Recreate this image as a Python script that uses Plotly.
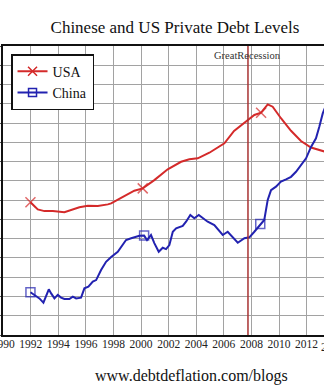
import plotly.graph_objects as go

# ---- data ----
usa_years = [1991.98, 1992.51, 1992.99, 1993.60, 1994.44, 1994.93, 1995.53, 1996.14, 1996.86,
             1997.59, 1997.83, 1998.55, 1999.51, 2000.12, 2000.96, 2001.93, 2002.90, 2003.50,
             2004.11, 2004.95, 2005.56, 2006.04, 2006.74, 2007.49, 2008.21, 2008.70, 2009.18,
             2009.54, 2010.14, 2010.87, 2011.59, 2012.32, 2012.83, 2013.40]
usa_debt = [118.9, 115.2, 114.3, 114.3, 113.7, 114.9, 116.3, 117.1, 116.9,
            117.8, 118.3, 121.2, 124.9, 126.1, 130.4, 136.0, 139.9, 141.2,
            141.7, 144.6, 147.4, 149.5, 155.9, 159.9, 164.2, 165.4, 169.7,
            168.5, 162.5, 156.0, 150.7, 147.3, 146.4, 145.0]

china_years = [1991.98, 1992.27, 1992.63, 1992.92, 1993.12, 1993.31, 1993.48, 1993.72, 1993.96,
               1994.20, 1994.44, 1994.80, 1995.05, 1995.29, 1995.65, 1995.89, 1996.18, 1996.50,
               1996.74, 1997.10, 1997.46, 1997.83, 1998.31, 1998.91, 1999.28, 1999.88, 2000.22,
               2000.43, 2000.72, 2000.96, 2001.28, 2001.57, 2001.81, 2002.05, 2002.30, 2002.54,
               2003.02, 2003.26, 2003.57, 2003.86, 2004.18, 2004.47, 2004.83, 2005.31, 2005.92,
               2006.28, 2006.64, 2007.01, 2007.49, 2007.85, 2008.21, 2008.64, 2008.93, 2009.18,
               2009.42, 2009.78, 2010.14, 2010.51, 2010.87, 2011.23, 2011.59, 2011.96, 2012.32,
               2012.68, 2012.92, 2013.17, 2013.41]
china_debt = [72.2, 70.8, 69.0, 66.8, 70.8, 73.7, 71.6, 69.0, 70.8,
              69.4, 68.7, 68.7, 69.9, 69.0, 69.4, 74.2, 75.1, 77.7,
              78.5, 83.7, 88.0, 90.5, 93.2, 99.3, 100.2, 101.5, 101.6,
              99.3, 101.9, 97.7, 93.2, 95.3, 94.6, 96.7, 103.6, 105.4,
              106.6, 108.8, 112.3, 110.6, 112.3, 110.6, 108.8, 107.1, 101.9,
              103.6, 101.0, 97.9, 100.2, 100.7, 103.6, 107.6, 109.7, 120.1,
              125.2, 127.0, 129.6, 130.8, 132.1, 134.7, 138.2, 141.7, 147.6,
              152.1, 158.1, 165.0, 169.4]

marker_years = [1992.0, 2000.3, 2008.65]
recession_start = 2007.75
x_ticks = list(range(1990, 2016, 2))
y_grid = list(range(50, 201, 10))

RED = "#d42a2a"
BLUE = "#2222b0"
GRID = "#a2a2a2"
SERIF = "Liberation Serif, Times New Roman, serif"
X0, X1 = 1989.99, 1990 + 321 / 13.8


def marker_sizes(years, size):
    sizes = [0] * len(years)
    for my in marker_years:
        idx = min(range(len(years)), key=lambda i: abs(years[i] - my))
        sizes[idx] = size
    return sizes


fig = go.Figure()

fig.add_trace(go.Scatter(
    x=usa_years, y=usa_debt, mode="lines+markers", showlegend=False,
    line=dict(color=RED, width=2),
    marker=dict(symbol="x-thin-open", size=marker_sizes(usa_years, 10),
                line=dict(color=RED, width=1.5), color=RED),
))
fig.add_trace(go.Scatter(
    x=china_years, y=china_debt, mode="lines+markers", showlegend=False,
    line=dict(color=BLUE, width=2),
    marker=dict(symbol="square-open", size=marker_sizes(china_years, 9),
                line=dict(color=BLUE, width=1.5), color=BLUE),
))
# legend entries
fig.add_trace(go.Scatter(
    x=[None], y=[None], mode="lines+markers", name="USA",
    line=dict(color=RED, width=2),
    marker=dict(symbol="x-thin-open", size=9, line=dict(color=RED, width=1.5), color=RED),
))
fig.add_trace(go.Scatter(
    x=[None], y=[None], mode="lines+markers", name="China",
    line=dict(color=BLUE, width=2),
    marker=dict(symbol="square-open", size=8, line=dict(color=BLUE, width=1.5), color=BLUE),
))

fig.update_layout(
    width=324, height=390,
    margin=dict(l=3, r=0, t=46, b=55),
    paper_bgcolor="white", plot_bgcolor="white",
    title=dict(text="Chinese and US Private Debt Levels", x=0.54, xanchor="center",
               y=1 - 27 / 390, yanchor="middle", yref="container",
               font=dict(family=SERIF, size=17, color="#111")),
    xaxis=dict(range=[X0, X1], tickvals=x_ticks, ticktext=[str(t) for t in x_ticks],
               showgrid=True, gridcolor=GRID, gridwidth=1,
               showline=True, linecolor="#111", linewidth=1.5, mirror=True,
               ticks="", ticklabelstandoff=-3, ticklabeloverflow="allow", automargin=False,
               tickfont=dict(family=SERIF, size=11.5, color="#222"), zeroline=False),
    yaxis=dict(range=[50, 200], tickvals=y_grid, automargin=False,
               showgrid=True, gridcolor=GRID, gridwidth=1,
               showline=True, linecolor="#111", linewidth=1.5, mirror=True,
               ticks="outside", ticklen=3, tickcolor="#555", showticklabels=False, zeroline=False),
    legend=dict(x=0.025, y=0.972, xanchor="left", yanchor="top",
                bgcolor="white", bordercolor="#111", borderwidth=1.5,
                font=dict(family=SERIF, size=14, color="#111"),
                tracegroupgap=0, itemwidth=30),
)
fig.add_shape(type="line", xref="x", yref="paper", x0=recession_start, x1=recession_start,
              y0=0, y1=1, line=dict(color="#a83232", width=1.5))
fig.add_annotation(x=recession_start, xref="x", y=0.992, yref="paper", yanchor="top",
                   text="GreatRecession", showarrow=False,
                   font=dict(family=SERIF, size=10.5, color="#333"))
fig.add_annotation(x=(333 - 3) / 321, xref="paper", xanchor="center",
                   y=0, yref="paper", yanchor="top", yshift=-4,
                   text="2014", showarrow=False,
                   font=dict(family=SERIF, size=11.5, color="#222"))
fig.add_annotation(x=190 / 324, xref="paper", xanchor="center",
                   y=-(376 - 335) / 289, yref="paper", yanchor="middle",
                   text="www.debtdeflation.com/blogs", showarrow=False,
                   font=dict(family=SERIF, size=16, color="#111"))

fig.write_html("out.html")
